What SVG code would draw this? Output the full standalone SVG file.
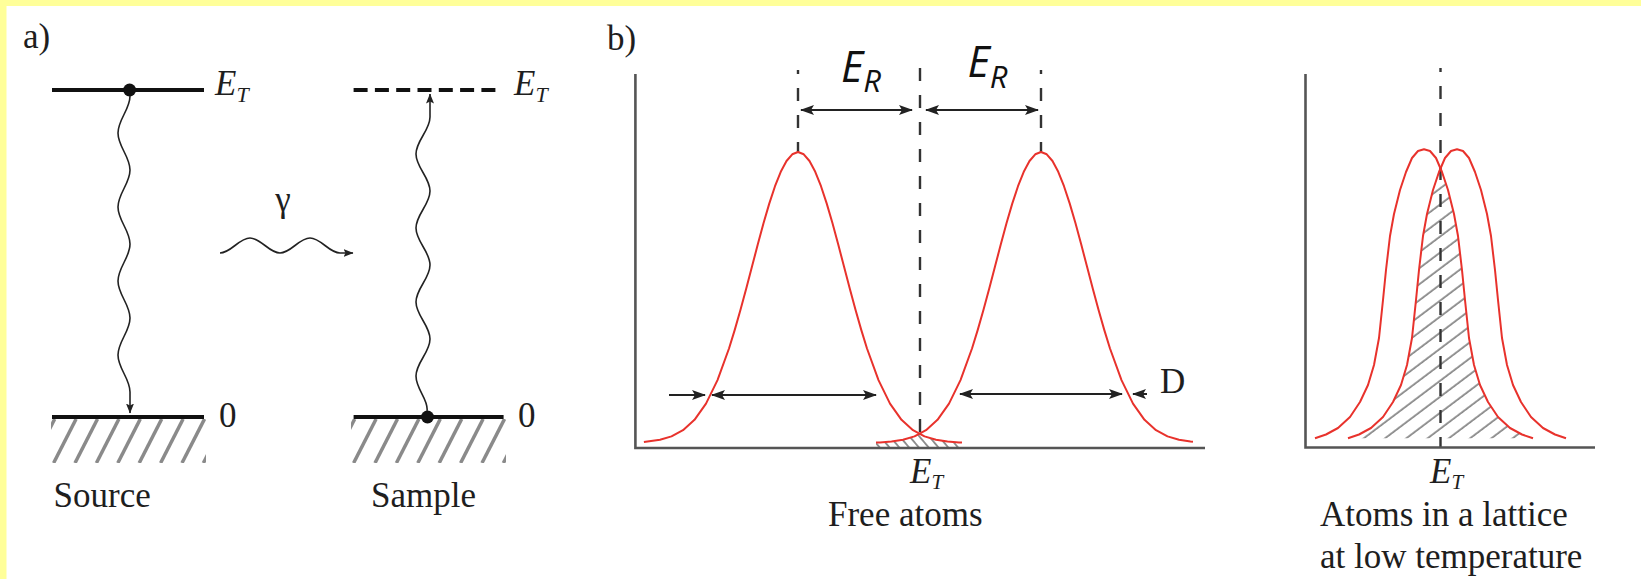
<svg xmlns="http://www.w3.org/2000/svg" width="1641" height="579" viewBox="0 0 1641 579">
<defs>
<style>
.t{font-family:"Liberation Serif","Times New Roman",serif;fill:#1e1e1e;font-size:35px}
.it{font-style:italic}
.er{font-family:"Open Sans","Liberation Sans",sans-serif;font-style:italic;fill:#111;font-size:43px}
.lev{stroke:#111;stroke-width:4;fill:none}
.hat{stroke:#8a8a8a;stroke-width:3.5}
.wave{fill:none;stroke:#222;stroke-width:1.6}
.axis{stroke:#555;stroke-width:2.6;fill:none}
.dash{stroke:#333;stroke-width:2.4;stroke-dasharray:13 14;fill:none}
.red{fill:none;stroke:#e8322c;stroke-width:2;stroke-linejoin:round}
.arr{stroke:#222;stroke-width:2;fill:none}
</style>
<marker id="ah" viewBox="0 0 14 10" refX="13" refY="5" markerWidth="14" markerHeight="10" markerUnits="userSpaceOnUse" orient="auto-start-reverse"><path d="M0,0 L14,5 L0,10 L3,5 Z" fill="#222"/></marker>
<marker id="ahs" viewBox="0 0 10 8" refX="9.5" refY="4" markerWidth="10" markerHeight="8" markerUnits="userSpaceOnUse" orient="auto"><path d="M0,0 L10,4 L0,8 L2,4 Z" fill="#222"/></marker>
<pattern id="hatchF" width="7.5" height="10" patternUnits="userSpaceOnUse" patternTransform="rotate(-40)"><line x1="3.75" y1="-2" x2="3.75" y2="12" stroke="#666" stroke-width="1.4"/></pattern>
<pattern id="hatchL" width="12.8" height="20" patternUnits="userSpaceOnUse" patternTransform="rotate(53)"><line x1="6" y1="-5" x2="6" y2="25" stroke="#7a7a7a" stroke-width="1.6"/></pattern>
<clipPath id="clipS"><rect x="51" y="419" width="155" height="44"/></clipPath>
<clipPath id="clipP"><rect x="351" y="419" width="155" height="44"/></clipPath>
</defs>

<rect x="0" y="0" width="1641" height="579" fill="#ffffff"/>
<rect x="0" y="0" width="1641" height="6" fill="#ffff99"/>
<rect x="0" y="0" width="6.5" height="579" fill="#ffff99"/>

<g id="label-a"><text class="t" x="23" y="48">a)</text></g>
<g id="label-b"><text class="t" x="607" y="50">b)</text></g>

<g id="source">
<line class="lev" x1="52" y1="90" x2="204" y2="90"/>
<circle cx="129.6" cy="90" r="6.5" fill="#111"/>
<text class="t" x="215" y="95"><tspan class="it">E</tspan><tspan class="it" dy="7" font-size="22">T</tspan></text>
<line class="lev" x1="52" y1="417" x2="204" y2="417"/>
<g clip-path="url(#clipS)">
<line class="hat" x1="32.2" y1="463" x2="54.7" y2="419"/>
<line class="hat" x1="53.6" y1="463" x2="76.1" y2="419"/>
<line class="hat" x1="75" y1="463" x2="97.5" y2="419"/>
<line class="hat" x1="96.4" y1="463" x2="118.9" y2="419"/>
<line class="hat" x1="117.8" y1="463" x2="140.3" y2="419"/>
<line class="hat" x1="139.2" y1="463" x2="161.7" y2="419"/>
<line class="hat" x1="160.6" y1="463" x2="183.1" y2="419"/>
<line class="hat" x1="182" y1="463" x2="204.5" y2="419"/>
<line class="hat" x1="203.4" y1="463" x2="225.9" y2="419"/>
</g>
<text class="t" x="219" y="427">0</text>
<text class="t" x="53.6" y="507">Source</text>
</g>

<g id="sample">
<line class="lev" x1="353.6" y1="90" x2="496" y2="90" stroke-dasharray="14 7.3"/>
<text class="t" x="514" y="95"><tspan class="it">E</tspan><tspan class="it" dy="7" font-size="22">T</tspan></text>
<line class="lev" x1="353.6" y1="417" x2="503.6" y2="417"/>
<circle cx="427.5" cy="417" r="6.5" fill="#111"/>
<g clip-path="url(#clipP)">
<line class="hat" x1="332.2" y1="463" x2="354.7" y2="419"/>
<line class="hat" x1="353.6" y1="463" x2="376.1" y2="419"/>
<line class="hat" x1="375" y1="463" x2="397.5" y2="419"/>
<line class="hat" x1="396.4" y1="463" x2="418.9" y2="419"/>
<line class="hat" x1="417.8" y1="463" x2="440.3" y2="419"/>
<line class="hat" x1="439.2" y1="463" x2="461.7" y2="419"/>
<line class="hat" x1="460.6" y1="463" x2="483.1" y2="419"/>
<line class="hat" x1="482" y1="463" x2="504.5" y2="419"/>
<line class="hat" x1="503.4" y1="463" x2="525.9" y2="419"/>
</g>
<text class="t" x="518" y="427">0</text>
<text class="t" x="371" y="507">Sample</text>
</g>

<g id="gamma">
<text class="t" x="283" y="211" font-size="46" text-anchor="middle">γ</text>
</g>

<g id="connectors">
<path class="wave" marker-end="url(#ahs)" d="M130,96 C130,109.5 118,119.5 118,133 S130,156.5 130,170 S118,193.5 118,207 S130,230.5 130,244 S118,267.5 118,281 S130,304.5 130,318 S118,341.5 118,355 S130,378.5 130,392 L130,413"/>
<path class="wave" marker-end="url(#ahs)" d="M427,411 C429,400 416,389.5 416,376 S430,352.5 430,339 S416,315.5 416,302 S430,278.5 430,265 S416,241.5 416,228 S430,204.5 430,191 S416,167.5 416,154 S430,130.5 430,117 L430,94"/>
<path class="wave" marker-end="url(#ahs)" d="M220,253 C230.9,253 239.1,238 250,238 S269.1,253 280,253 S299.1,238 310,238 S329.1,253 340,253 L353,253"/>
</g>

<g id="free-atoms">
<path fill="url(#hatchF)" d="M876,442.6 L880,442.4 L891.5,441.5 L903,439.8 L914.5,436.4 L920,433.6 L924.5,436.4 L936,439.8 L947.5,441.5 L959,442.4 L962,442.6 L962,448 L876,448 Z"/>
<path class="dash" d="M920,68 L920,433"/>
<path class="dash" stroke-dashoffset="9" d="M798,70 L798,152"/>
<path class="dash" stroke-dashoffset="9" d="M1041,70 L1041,152"/>
<path class="red" d="M643.9,441.9 L660,439.8 L671.5,436.4 L683,430.2 L694.5,419.8 L706,403.6 L717.5,380.1 L729,348.5 L734.75,329.9 L740.5,309.8 L746.25,288.4 L752,266.5 L757.75,244.6 L763.5,223.3 L769.25,203.6 L775,186.2 L780.75,171.8 L786.5,161 L792.25,154.3 L798,152 L803.75,154.3 L809.5,161 L815.25,171.8 L821,186.2 L826.75,203.6 L832.5,223.3 L838.25,244.6 L844,266.5 L849.75,288.4 L855.5,309.8 L861.25,329.9 L867,348.5 L878.5,380.1 L890,403.6 L901.5,419.8 L913,430.2 L924.5,436.4 L936,439.8 L947.5,441.5 L959,442.4 L962,442.6"/>
<path class="red" d="M876,442.6 L880,442.4 L891.5,441.5 L903,439.8 L914.5,436.4 L926,430.2 L937.5,419.8 L949,403.6 L960.5,380.1 L972,348.5 L977.75,329.9 L983.5,309.8 L989.25,288.4 L995,266.5 L1000.75,244.6 L1006.5,223.3 L1012.25,203.6 L1018,186.2 L1023.75,171.8 L1029.5,161 L1035.25,154.3 L1041,152 L1046.75,154.3 L1052.5,161 L1058.25,171.8 L1064,186.2 L1069.75,203.6 L1075.5,223.3 L1081.25,244.6 L1087,266.5 L1092.75,288.4 L1098.5,309.8 L1104.25,329.9 L1110,348.5 L1121.5,380.1 L1133,403.6 L1144.5,419.8 L1156,430.2 L1167.5,436.4 L1179,439.8 L1190.5,441.5 L1193,441.8"/>
<path class="axis" d="M635.4,74 L635.4,448 L1205,448"/>
<line class="arr" x1="801" y1="110" x2="912" y2="110" marker-start="url(#ah)" marker-end="url(#ah)"/>
<line class="arr" x1="926" y1="110" x2="1038" y2="110" marker-start="url(#ah)" marker-end="url(#ah)"/>
<line class="arr" x1="669" y1="395" x2="705" y2="395" marker-end="url(#ah)"/>
<line class="arr" x1="712" y1="395" x2="876" y2="395" marker-start="url(#ah)" marker-end="url(#ah)"/>
<line class="arr" x1="960" y1="394" x2="1122" y2="394" marker-start="url(#ah)" marker-end="url(#ah)"/>
<line class="arr" x1="1147" y1="394" x2="1133" y2="394" marker-end="url(#ah)"/>
<text class="er" x="841" y="82">E<tspan dy="10" font-size="31">R</tspan></text>
<text class="er" x="967.5" y="77">E<tspan dy="11" font-size="31">R</tspan></text>
<text class="t" x="1160" y="393" font-size="31">D</text>
<text class="t" x="910" y="483"><tspan class="it">E</tspan><tspan class="it" dy="6" font-size="21">T</tspan></text>
<text class="t" x="828" y="526">Free atoms</text>
</g>

<g id="lattice">
<path fill="url(#hatchL)" d="M1348,438.3 L1359,434.5 L1371,428 L1383,417 L1393,402 L1401,385 L1407,365 L1412,338 L1416,300 L1419,270 L1423,236 L1427,214 L1433,190 L1439,172 L1440.5,168.5 L1442,172 L1448,190 L1454,214 L1458,236 L1462,270 L1465,300 L1469,338 L1474,365 L1480,385 L1488,402 L1498,417 L1510,428 L1522,434.5 L1533,438.3 Z"/>
<path class="dash" stroke-dashoffset="9" d="M1440.5,68 L1440.5,448"/>
<path class="red" d="M1315,438.3 L1326,434.5 L1338,428 L1350,417 L1360,402 L1368,385 L1374,365 L1379,338 L1383,300 L1386,270 L1390,236 L1394,214 L1400,190 L1406,172 L1412,158 L1418,151 L1424,149.3 L1430,151 L1436,158 L1442,172 L1448,190 L1454,214 L1458,236 L1462,270 L1465,300 L1469,338 L1474,365 L1480,385 L1488,402 L1498,417 L1510,428 L1522,434.5 L1533,438.3"/>
<path class="red" d="M1348,438.3 L1359,434.5 L1371,428 L1383,417 L1393,402 L1401,385 L1407,365 L1412,338 L1416,300 L1419,270 L1423,236 L1427,214 L1433,190 L1439,172 L1445,158 L1451,151 L1457,149.3 L1463,151 L1469,158 L1475,172 L1481,190 L1487,214 L1491,236 L1495,270 L1498,300 L1502,338 L1507,365 L1513,385 L1521,402 L1531,417 L1543,428 L1555,434.5 L1566,438.3"/>
<path class="axis" d="M1305.5,74 L1305.5,447.5 L1595,447.5"/>
<text class="t" x="1430" y="483"><tspan class="it">E</tspan><tspan class="it" dy="6" font-size="21">T</tspan></text>
<text class="t" x="1320" y="526">Atoms in a lattice</text>
<text class="t" x="1320" y="568">at low temperature</text>
</g>
</svg>
